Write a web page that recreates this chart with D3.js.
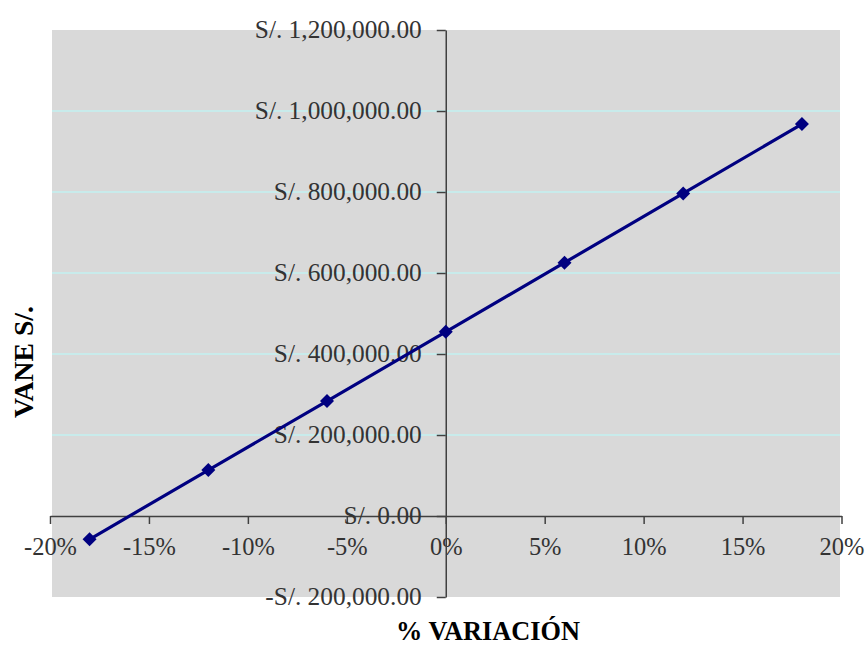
<!DOCTYPE html>
<html>
<head>
<meta charset="utf-8">
<script src="https://cdn.jsdelivr.net/npm/d3@7"></script>
<style>
  html, body { margin: 0; padding: 0; background: #ffffff; }
  svg { display: block; }
</style>
</head>
<body>
<svg id="chart" width="866" height="645"></svg>
<script>
// Sensitivity of VANE to % variation
const variation = [-0.18, -0.12, -0.06, 0, 0.06, 0.12, 0.18];
const vane = [-57500, 113400, 283800, 454700, 625600, 796500, 967700];
const xTicks = [-0.20, -0.15, -0.10, -0.05, 0, 0.05, 0.10, 0.15, 0.20];
const yTicks = [-200000, 0, 200000, 400000, 600000, 800000, 1000000, 1200000];
const xTitle = "% VARIACIÓN";
const yTitle = "VANE S/.";

const svg = d3.select("#chart");
const font = "'Liberation Serif', 'DejaVu Serif', serif";

const x = d3.scaleLinear().domain([-0.20, 0.20]).range([50, 841.5]);
const y = d3.scaleLinear().domain([-200000, 1200000]).range([597, 30]);

// font size that makes a sample string span a given width
function fitSize(sample, width, weight) {
  const t = svg.append("text")
    .style("font-family", font)
    .style("font-size", "20px")
    .style("font-weight", weight || "normal")
    .text(sample);
  const w = t.node().getComputedTextLength();
  t.remove();
  return 20 * width / w;
}
const tickSizeY = fitSize("S/. 1,200,000.00", 167);
const tickSizeX = fitSize("-20%", 53);
const xTitleSize = fitSize(xTitle, 184, "bold");
const yTitleSize = fitSize(yTitle, 112, "bold");

// plot background
svg.append("rect")
  .attr("x", 52).attr("y", 30)
  .attr("width", 840 - 52).attr("height", 597 - 30)
  .attr("fill", "#d9d9d9");

// horizontal gridlines
svg.append("g").selectAll("line")
  .data(yTicks.filter(d => d !== 0 && d !== 1200000 && d !== -200000))
  .join("line")
  .attr("x1", 52).attr("x2", 840)
  .attr("y1", d => y(d)).attr("y2", d => y(d))
  .attr("stroke", "#c2f0f0").attr("stroke-width", 1.3);

const fmtMoney = d => {
  const s = "S/. " + d3.format(",.2f")(Math.abs(d));
  return d < 0 ? "-" + s : s;
};
const fmtPct = d => (d < 0 ? "-" : "") + d3.format(".0%")(Math.abs(d));

// x axis on the zero line
const xAxis = svg.append("g")
  .attr("transform", `translate(0,${y(0)})`)
  .call(d3.axisBottom(x).tickValues(xTicks).tickFormat(fmtPct).tickSizeInner(8).tickSizeOuter(0).tickPadding(14));

// y axis on the 0% line
const yAxis = svg.append("g")
  .attr("transform", `translate(${x(0)},0)`)
  .call(d3.axisLeft(y).tickValues(yTicks).tickFormat(fmtMoney).tickSizeInner(9).tickSizeOuter(0).tickPadding(15));

[xAxis, yAxis].forEach(g => {
  g.select(".domain").attr("stroke", "#404040").attr("stroke-width", 1.5);
  g.selectAll(".tick line").attr("stroke", "#404040").attr("stroke-width", 1.5);
  g.selectAll(".tick text")
    .attr("fill", "#333333")
    .style("font-family", font);
});
xAxis.selectAll(".tick text").style("font-size", tickSizeX + "px");
yAxis.selectAll(".tick text").style("font-size", tickSizeY + "px").attr("dy", "0.3em");

// series line
const line = d3.line()
  .x((d, i) => x(variation[i]))
  .y(d => y(d));
svg.append("path")
  .datum(vane)
  .attr("d", line)
  .attr("fill", "none")
  .attr("stroke", "#000080")
  .attr("stroke-width", 3.2);

// diamond markers
svg.append("g").selectAll("path")
  .data(vane)
  .join("path")
  .attr("transform", (d, i) => `translate(${x(variation[i])},${y(d)})`)
  .attr("d", d3.symbol().type(d3.symbolDiamond2).size(125)())
  .attr("fill", "#000080");

// axis titles
svg.append("text")
  .attr("x", 488).attr("y", 640)
  .attr("text-anchor", "middle")
  .style("font-family", font)
  .style("font-size", xTitleSize + "px")
  .style("font-weight", "bold")
  .attr("fill", "#000")
  .text(xTitle);

svg.append("text")
  .attr("transform", "translate(33,362) rotate(-90)")
  .attr("text-anchor", "middle")
  .style("font-family", font)
  .style("font-size", yTitleSize + "px")
  .style("font-weight", "bold")
  .attr("fill", "#000")
  .text(yTitle);
</script>
</body>
</html>
